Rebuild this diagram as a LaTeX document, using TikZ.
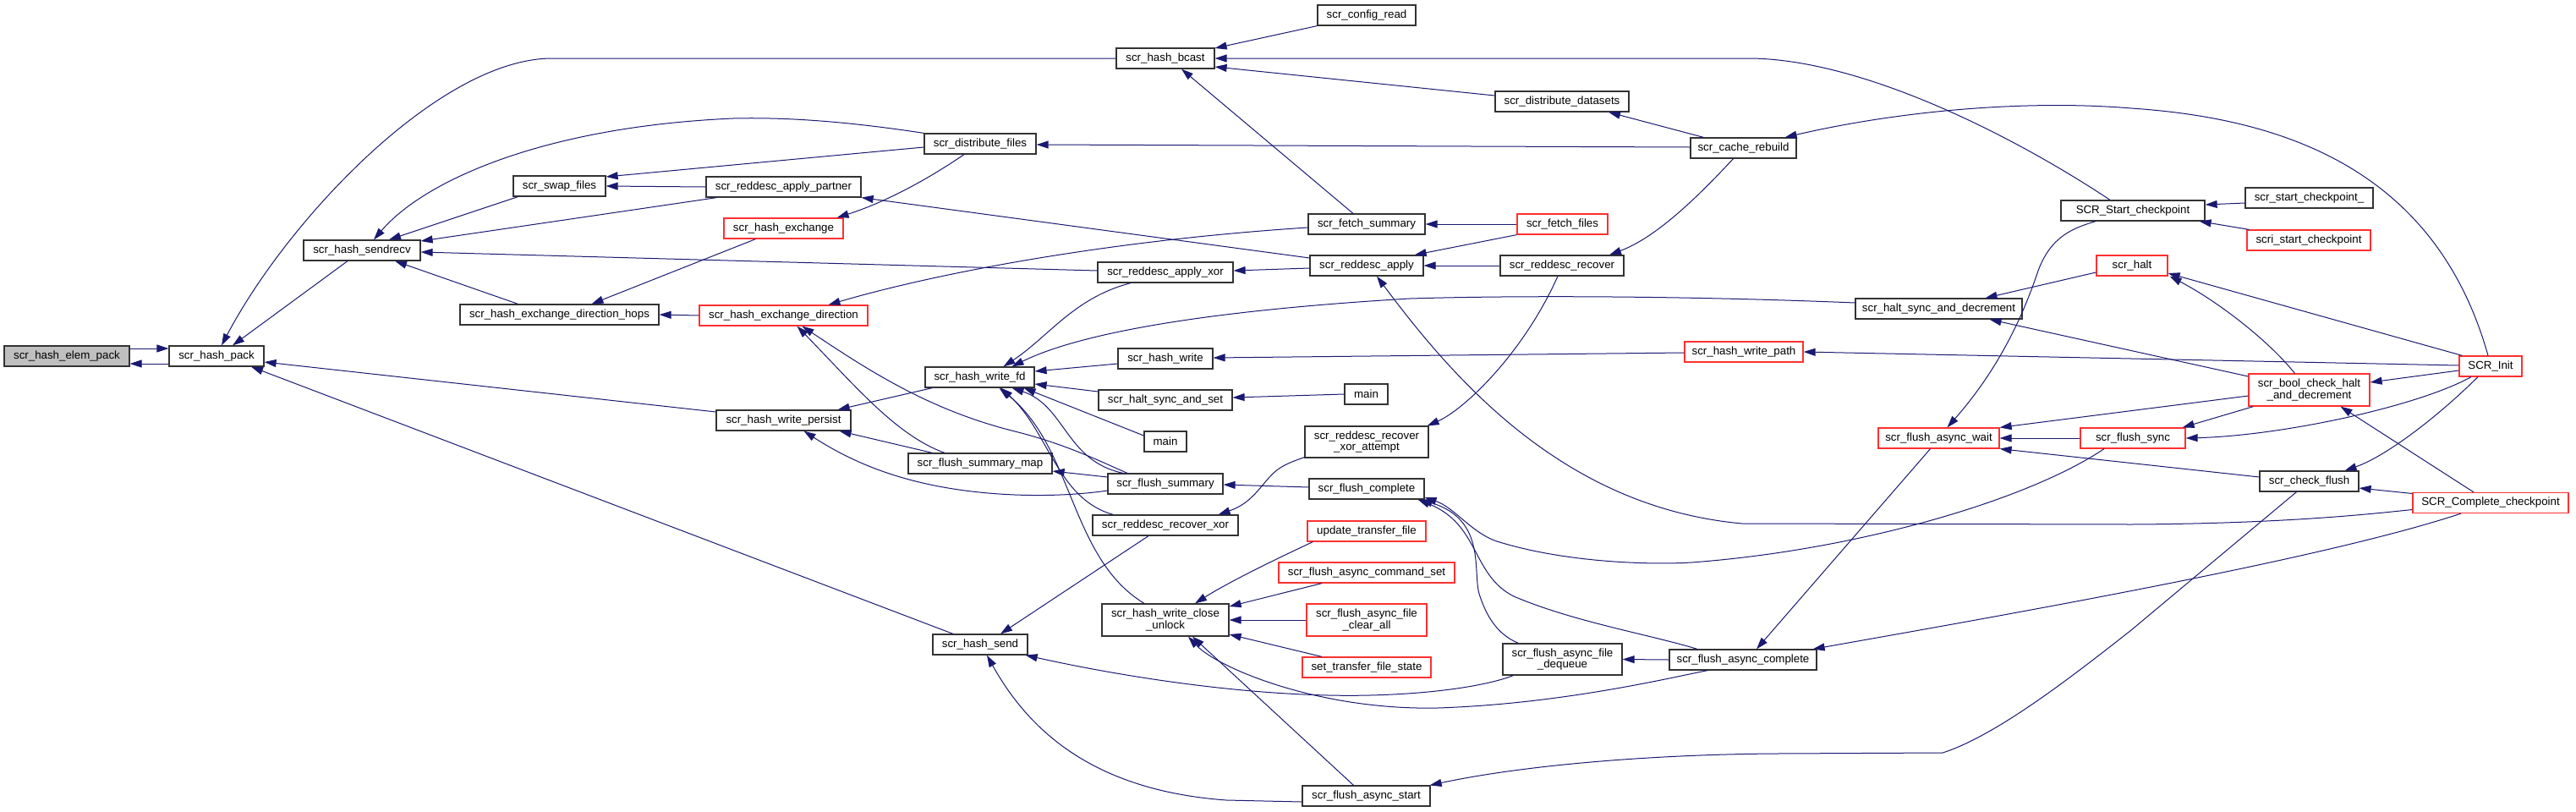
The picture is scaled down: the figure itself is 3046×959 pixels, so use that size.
\documentclass[tikz,border=0pt]{standalone}
\usepackage{fontspec}
\setmainfont{Liberation Sans}
\usetikzlibrary{arrows.meta,calc}
\definecolor{edgec}{HTML}{191970}
\definecolor{nodeb}{HTML}{333333}
\definecolor{redb}{HTML}{FF3030}
\definecolor{rootf}{HTML}{BFBFBF}
\tikzset{
  fn/.style={draw=nodeb, line width=1.2pt, fill=white, minimum height=24pt, inner sep=0pt,
    font=\fontsize{13.3}{13.5}\selectfont, align=center, text=black},
  rn/.style={fn, draw=redb},
  edge/.style={draw=edgec, line width=1pt, {Triangle[length=14pt,width=9pt]}-}
}
\begin{document}
\begin{tikzpicture}[x=1pt,y=-1pt]
\useasboundingbox (0,0) rectangle (3046,959);
% nodes
\node[fn, fill=rootf, minimum width=148] (elem) at (79,421) {scr\_hash\_elem\_pack};
\node[fn, minimum width=112] (pack) at (256,421) {scr\_hash\_pack};
\node[fn, minimum width=138] (sendrecv) at (428,296) {scr\_hash\_sendrecv};
\node[fn, minimum width=109] (swap) at (661.5,220) {scr\_swap\_files};
\node[fn, minimum width=183] (partner) at (926.5,221) {scr\_reddesc\_apply\_partner};
\node[rn, minimum width=141] (hexch) at (926.5,270) {scr\_hash\_exchange};
\node[fn, minimum width=235] (hops) at (661.5,372) {scr\_hash\_exchange\_direction\_hops};
\node[rn, minimum width=199] (hdir) at (926.5,373) {scr\_hash\_exchange\_direction};
\node[fn, minimum width=159] (persist) at (926.5,497) {scr\_hash\_write\_persist};
\node[fn, minimum width=116] (bcast) at (1378,69) {scr\_hash\_bcast};
\node[fn, minimum width=132] (dfiles) at (1159,170) {scr\_distribute\_files};
\node[fn, minimum width=160] (applyxor) at (1378,322) {scr\_reddesc\_apply\_xor};
\node[fn, minimum width=129] (wfd) at (1158.5,446) {scr\_hash\_write\_fd};
\node[fn, minimum width=112] (hwrite) at (1378,424) {scr\_hash\_write};
\node[fn, minimum width=158] (hsset) at (1378,473) {scr\_halt\_sync\_and\_set};
\node[fn, minimum width=50] (main1) at (1378,522) {main};
\node[fn, minimum width=170] (fsmap) at (1159,548) {scr\_flush\_summary\_map};
\node[fn, minimum width=136] (fsum) at (1378,572) {scr\_flush\_summary};
\node[fn, minimum width=172] (rxor) at (1378,621) {scr\_reddesc\_recover\_xor};
\node[fn, minimum width=150, minimum height=38] (wcu) at (1378,733) {scr\_hash\_write\_close\\\_unlock};
\node[fn, minimum width=112] (hsend) at (1159,762) {scr\_hash\_send};
\node[fn, minimum width=116] (config) at (1616,18) {scr\_config\_read};
\node[fn, minimum width=158] (ddatasets) at (1847,120) {scr\_distribute\_datasets};
\node[fn, minimum width=138] (fetchsum) at (1616,265) {scr\_fetch\_summary};
\node[rn, minimum width=107] (fetchfiles) at (1847.5,265) {scr\_fetch\_files};
\node[fn, minimum width=134] (rapply) at (1616,314) {scr\_reddesc\_apply};
\node[fn, minimum width=146] (rrecover) at (1847,314) {scr\_reddesc\_recover};
\node[fn, minimum width=51] (main2) at (1615.5,466) {main};
\node[fn, minimum width=146, minimum height=37] (rxatt) at (1616,522.5) {scr\_reddesc\_recover\\\_xor\_attempt};
\node[fn, minimum width=136] (fcomplete) at (1616,578) {scr\_flush\_complete};
\node[rn, minimum width=140] (utf) at (1616,628) {update\_transfer\_file};
\node[rn, minimum width=208] (facs) at (1616,677) {scr\_flush\_async\_command\_set};
\node[rn, minimum width=142, minimum height=38] (fclear) at (1616,733) {scr\_flush\_async\_file\\\_clear\_all};
\node[rn, minimum width=152] (stfs) at (1616,789) {set\_transfer\_file\_state};
\node[fn, minimum width=141, minimum height=37] (fdeq) at (1847.5,779.5) {scr\_flush\_async\_file\\\_dequeue};
\node[fn, minimum width=151] (fastart) at (1615.5,941) {scr\_flush\_async\_start};
\node[fn, minimum width=125] (cache) at (2061.5,175) {scr\_cache\_rebuild};
\node[fn, minimum width=170] (sstart) at (2522,249) {SCR\_Start\_checkpoint};
\node[rn, minimum width=84] (halt) at (2521,314) {scr\_halt};
\node[fn, minimum width=197] (hsdec) at (2292.5,365) {scr\_halt\_sync\_and\_decrement};
\node[rn, minimum width=140] (wpath) at (2062,416) {scr\_hash\_write\_path};
\node[rn, minimum width=143] (fawait) at (2292.5,518) {scr\_flush\_async\_wait};
\node[rn, minimum width=124] (fsync) at (2522,518) {scr\_flush\_sync};
\node[fn, minimum width=174] (facomplete) at (2061,780) {scr\_flush\_async\_complete};
\node[fn, minimum width=151] (scpu) at (2730.5,234) {scr\_start\_checkpoint\_};
\node[rn, minimum width=146] (scri) at (2730,284) {scri\_start\_checkpoint};
\node[rn, minimum width=74] (init) at (2945,433) {SCR\_Init};
\node[rn, minimum width=143, minimum height=38] (boolchk) at (2730.5,461) {scr\_bool\_check\_halt\\\_and\_decrement};
\node[fn, minimum width=117] (chkflush) at (2730.5,569) {scr\_check\_flush};
\node[rn, minimum width=184] (complete) at (2945,594.5) {SCR\_Complete\_checkpoint};
% edges
\draw[edge] ($(pack.west)+(0,-9)$) -- ($(elem.east)+(0,-9)$);
\draw[edge] ($(elem.east)+(0,9)$) -- ($(pack.west)+(0,9)$);
\draw[edge] ($(pack.north)+(6,0)$) .. controls (340,260) and (520,69) .. (653,69) -- (bcast.west);
\draw[edge] ($(pack.north)+(19,0)$) -- ($(sendrecv.south)+(-17,0)$);
\draw[edge] ($(pack.east)+(0,7)$) -- ($(persist.west)+(0,-10)$);
\draw[edge] ($(pack.south)+(41,0)$) -- ($(hsend.north)+(-32,0)$);
\draw[edge] ($(sendrecv.north)+(14,0)$) .. controls (500,215) and (640,150) .. (867,140) .. controls (950,138) and (1030,148) .. (dfiles.north west);
\draw[edge] ($(sendrecv.north)+(32,0)$) -- ($(swap.south west)+(6,0)$);
\draw[edge] ($(sendrecv.east)+(0,-11)$) -- ($(partner.south west)+(13,0)$);
\draw[edge] ($(sendrecv.east)+(0,2)$) -- ($(applyxor.west)+(0,-2)$);
\draw[edge] ($(sendrecv.south)+(39,0)$) -- ($(hops.north)+(-49,0)$);
\draw[edge] (swap.east) -- (partner.west);
\draw[edge] ($(swap.east)+(0,-11)$) -- ($(dfiles.west)+(0,4)$);
\draw[edge] ($(hexch.north east)+(-8,0)$) .. controls (1050,238) and (1100,210) .. ($(dfiles.south)+(-19,0)$);
\draw[edge] ($(hops.north)+(38,0)$) -- ($(hexch.south)+(-33,0)$);
\draw[edge] (hops.east) -- (hdir.west);
\draw[edge] ($(hdir.north)+(53,0)$) .. controls (1100,325) and (1300,285) .. ($(fetchsum.west)+(0,4)$);
\draw[edge] ($(hdir.south)+(16,0)$) .. controls (1010,455) and (1060,515) .. ($(fsmap.north)+(-42,0)$);
\draw[edge] ($(hdir.south)+(22,0)$) .. controls (1030,440) and (1100,485) .. (1200,510) .. controls (1260,525) and (1300,545) .. ($(fsum.north)+(-45,0)$);
\draw[edge] ($(persist.north east)+(-16,0)$) -- ($(wfd.south west)+(9,0)$);
\draw[edge] ($(persist.south east)+(-14,0)$) -- ($(fsmap.north west)+(29,0)$);
\draw[edge] ($(persist.south)+(24,0)$) .. controls (1010,548) and (1080,580) .. (1200,585) .. controls (1250,587) and (1290,583) .. ($(fsum.west)+(0,8)$);
\draw[edge] ($(wfd.north)+(28,0)$) .. controls (1240,398) and (1270,352) .. ($(applyxor.south)+(-41,0)$);
\draw[edge] ($(wfd.north)+(38,0)$) .. controls (1260,402) and (1380,370) .. (1667,353) .. controls (1800,349) and (2000,350) .. ($(hsdec.west)+(0,-7)$);
\draw[edge] ($(wfd.east)+(0,-7)$) -- ($(hwrite.west)+(0,6)$);
\draw[edge] ($(wfd.east)+(0,8)$) -- ($(hsset.west)+(0,-10)$);
\draw[edge] ($(wfd.south)+(52,0)$) -- ($(main1.west)+(0,-7)$);
\draw[edge] ($(wfd.south)+(38,0)$) .. controls (1260,480) and (1260,545) .. ($(fsum.north)+(-50,0)$);
\draw[edge] ($(wfd.south)+(25,0)$) .. controls (1240,510) and (1250,590) .. ($(rxor.north west)+(25,0)$);
\draw[edge] ($(wfd.south)+(23,0)$) .. controls (1270,530) and (1265,660) .. ($(wcu.north)+(-25,0)$);
\draw[edge] ($(hwrite.east)+(0,-1)$) -- ($(wpath.west)+(0,1)$);
\draw[edge] ($(hsset.east)+(0,-3)$) -- (main2.west);
\draw[edge] ($(fsmap.east)+(0,9)$) -- ($(fsum.west)+(0,-8)$);
\draw[edge] ($(fsum.east)+(0,1)$) -- ($(fcomplete.west)+(0,-2)$);
\draw[edge] ($(rxor.north east)+(-24,0)$) .. controls (1480,595) and (1490,575) .. (1505,560) .. controls (1515,550) and (1530,545) .. ($(rxatt.south west)+(0,-1)$);
\draw[edge] ($(hsend.north)+(24,0)$) -- ($(rxor.south)+(-20,0)$);
\draw[edge] ($(hsend.south east)+(-3,0)$) .. controls (1350,805) and (1500,825) .. (1620,822) .. controls (1700,820) and (1760,810) .. ($(fdeq.south west)+(13,0)$);
\draw[edge] ($(hsend.south)+(8,0)$) .. controls (1220,870) and (1300,935) .. (1450,946) -- ($(fastart.west)+(0,7)$);
\draw[edge] ($(wcu.north)+(35,0)$) .. controls (1450,690) and (1500,665) .. ($(utf.south west)+(7,0)$);
\draw[edge] ($(wcu.east)+(0,-16)$) -- ($(facs.south)+(-53,0)$);
\draw[edge] (wcu.east) -- (fclear.west);
\draw[edge] ($(wcu.east)+(0,17)$) -- ($(stfs.north)+(-53,0)$);
\draw[edge] ($(wcu.south)+(27,0)$) .. controls (1440,790) and (1560,840) .. (1700,837) .. controls (1850,832) and (1980,800) .. ($(facomplete.south west)+(46,0)$);
\draw[edge] ($(wcu.south)+(32,0)$) -- ($(fastart.north)+(-15,0)$);
\draw[edge] ($(bcast.east)+(0,-12)$) -- (config.south west);
\draw[edge] (bcast.east) -- (2067,69) .. controls (2200,69) and (2380,160) .. ($(sstart.north)+(-27,0)$);
\draw[edge] ($(bcast.east)+(0,10)$) -- ($(ddatasets.west)+(0,-7)$);
\draw[edge] ($(bcast.south)+(19,0)$) -- ($(fetchsum.north)+(-16,0)$);
\draw[edge] ($(ddatasets.south)+(55,0)$) -- ($(cache.north west)+(16,0)$);
\draw[edge] ($(dfiles.east)+(0,1)$) -- ($(cache.west)+(0,-1)$);
\draw[edge] (partner.south east) -- ($(rapply.west)+(0,-9)$);
\draw[edge] ($(applyxor.east)+(0,-2)$) -- ($(rapply.west)+(0,3)$);
\draw[edge] (fetchsum.east) -- (fetchfiles.west);
\draw[edge] ($(rapply.north east)+(-11,0)$) -- (fetchfiles.south west);
\draw[edge] (rapply.east) -- (rrecover.west);
\draw[edge] ($(rrecover.north)+(56,0)$) .. controls (1960,280) and (2010,230) .. ($(cache.south)+(-12,0)$);
\draw[edge] ($(rxatt.north east)+(-2,0)$) .. controls (1730,485) and (1800,420) .. ($(rrecover.south)+(-5,0)$);
\draw[edge] ($(rapply.south)+(12,0)$) .. controls (1720,450) and (1850,600) .. (2060,619) -- (2520,620) .. controls (2700,619) and (2800,608) .. ($(complete.west)+(0,8)$);
\draw[edge] ($(fcomplete.east)+(0,10)$) .. controls (1720,600) and (1740,630) .. (1770,640) .. controls (1850,665) and (1950,668) .. (2000,665) .. controls (2200,650) and (2400,590) .. ($(fsync.south)+(-34,0)$);
\draw[edge] ($(fcomplete.south east)+(-5,0)$) .. controls (1760,615) and (1740,680) .. (1750,705) .. controls (1760,735) and (1775,752) .. ($(fdeq.north)+(-52,0)$);
\draw[edge] ($(fcomplete.south east)+(-8,0)$) .. controls (1750,620) and (1740,680) .. (1790,705) .. controls (1860,735) and (1950,750) .. ($(facomplete.north)+(-54,0)$);
\draw[edge] (fdeq.east) -- (facomplete.west);
\draw[edge] ($(facomplete.north)+(16,0)$) -- ($(fawait.south)+(-10,0)$);
\draw[edge] ($(facomplete.north east)+(-5,0)$) .. controls (2400,722) and (2750,660) .. ($(complete.south)+(-35,0)$);
\draw[edge] (fawait.east) -- (fsync.west);
\draw[edge] ($(fawait.north)+(10,0)$) .. controls (2360,440) and (2390,380) .. (2410,320) .. controls (2425,280) and (2450,270) .. ($(sstart.south)+(-44,0)$);
\draw[edge] (fawait.south east) -- ($(chkflush.west)+(0,-5)$);
\draw[edge] (fawait.north east) -- ($(boolchk.west)+(0,7)$);
\draw[edge] ($(fsync.north east)+(-4,0)$) -- ($(boolchk.south west)+(6,0)$);
\draw[edge] (fsync.east) .. controls (2700,515) and (2860,480) .. ($(init.south)+(-23,0)$);
\draw[edge] ($(chkflush.north)+(42,0)$) .. controls (2820,540) and (2880,495) .. ($(init.south)+(-15,0)$);
\draw[edge] ($(chkflush.east)+(0,8)$) -- ($(complete.west)+(0,-11)$);
\draw[edge] ($(fastart.north east)+(-1,0)$) .. controls (1800,905) and (1950,892) .. (2100,891) -- (2297,890) .. controls (2360,870) and (2450,800) .. (2520,745) -- ($(chkflush.south)+(-15,0)$);
\draw[edge] ($(boolchk.east)+(0,-9)$) -- ($(init.west)+(0,5)$);
\draw[edge] ($(boolchk.south)+(37,0)$) -- ($(complete.north)+(-20,0)$);
\draw[edge] ($(hsdec.north)+(55,0)$) -- ($(halt.west)+(0,8)$);
\draw[edge] ($(hsdec.south)+(60,0)$) -- ($(boolchk.west)+(0,-16)$);
\draw[edge] (wpath.east) -- ($(init.west)+(0,-1)$);
\draw[edge] ($(halt.east)+(0,9)$) -- ($(init.north west)+(4,0)$);
\draw[edge] ($(halt.south east)+(2,0)$) .. controls (2620,355) and (2680,400) .. ($(boolchk.north)+(-17,0)$);
\draw[edge] ($(cache.north east)+(-14,0)$) .. controls (2250,130) and (2400,118) .. (2520,128) .. controls (2700,140) and (2880,200) .. ($(init.north)+(-3,0)$);
\draw[edge] ($(sstart.east)+(0,-7)$) -- ($(scpu.west)+(0,6)$);
\draw[edge] ($(sstart.south east)+(-7,0)$) -- ($(scri.north west)+(3,0)$);
\end{tikzpicture}
\end{document}
